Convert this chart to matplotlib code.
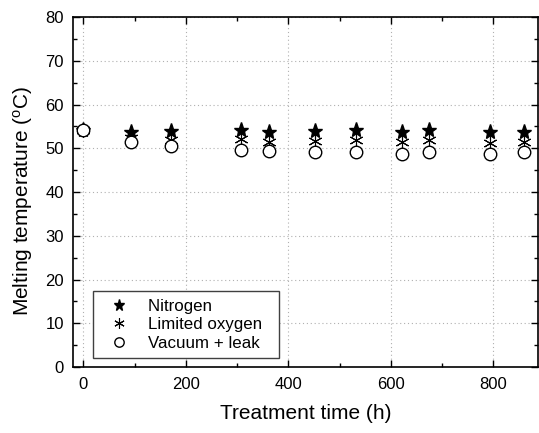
import matplotlib.pyplot as plt
from matplotlib.ticker import MultipleLocator

plt.rcParams['font.family'] = ['Liberation Sans', 'DejaVu Sans']
plt.rcParams['mathtext.fontset'] = 'custom'
plt.rcParams['mathtext.rm'] = 'Liberation Sans'

# Treatment time (h)
t = [0, 94, 172, 308, 362, 453, 532, 622, 675, 794, 860]
# Melting temperature (C)
nitrogen = [54.2, 53.8, 54.0, 54.2, 53.8, 53.9, 54.2, 53.8, 54.2, 53.8, 53.8]
limited_o2 = [54.1, 52.3, 51.9, 52.2, 51.5, 51.7, 51.9, 51.5, 52.0, 51.3, 51.5]
vacuum_leak = [54.2, 51.5, 50.6, 49.6, 49.4, 49.1, 49.1, 48.8, 49.1, 48.8, 49.1]

fig = plt.figure(figsize=(5.39, 4.33), dpi=100)
ax = fig.add_axes([0.1354, 0.1524, 0.8627, 0.8083])

ax.grid(True, which='major', linestyle=(0, (1, 2.5)), color='#b0b0b0', linewidth=0.8)
ax.set_axisbelow(True)

ax.plot(t, nitrogen, linestyle='none', marker='*', markersize=11,
        color='black', label='Nitrogen', zorder=3)
ax.plot(t, limited_o2, linestyle='none', marker=(6, 2, 0), markersize=10,
        color='black', markeredgewidth=0.8, label='Limited oxygen', zorder=4)
ax.plot(t, vacuum_leak, linestyle='none', marker='o', markersize=9,
        markerfacecolor='white', markeredgecolor='black', markeredgewidth=1.0,
        label='Vacuum + leak', zorder=5)

ax.set_xlim(-20, 887)
ax.set_ylim(0, 80)
ax.xaxis.set_major_locator(MultipleLocator(200))
ax.xaxis.set_minor_locator(MultipleLocator(100))
ax.yaxis.set_major_locator(MultipleLocator(10))
ax.yaxis.set_minor_locator(MultipleLocator(5))
ax.tick_params(which='both', direction='in', top=True, right=True,
               labelsize=12, width=1.0)
ax.tick_params(which='major', length=5)
ax.tick_params(axis='x', which='major', pad=7)
ax.tick_params(axis='y', which='major', pad=6.5)
ax.tick_params(which='minor', length=3)
for s in ax.spines.values():
    s.set_linewidth(1.2)

ax.set_xlabel('Treatment time (h)', fontsize=15, labelpad=9)
ax.set_ylabel(r'Melting temperature ($\mathregular{^o}$C)', fontsize=15)
ax.yaxis.set_label_coords(-0.082, 0.474)

leg = ax.legend(loc='lower left', bbox_to_anchor=(0.043, 0.025), borderaxespad=0,
                fontsize=12.2, fancybox=False, framealpha=1, edgecolor='#404040',
                markerscale=0.75, handletextpad=0.6, borderpad=0.45,
                labelspacing=0.2, handlelength=2.2)
leg.get_frame().set_linewidth(1.0)
# extra padding on the right of the legend box like the reference
for txt in leg.get_texts():
    txt.set_text(txt.get_text() + '  ')

fig.savefig('out.png', dpi=100)
